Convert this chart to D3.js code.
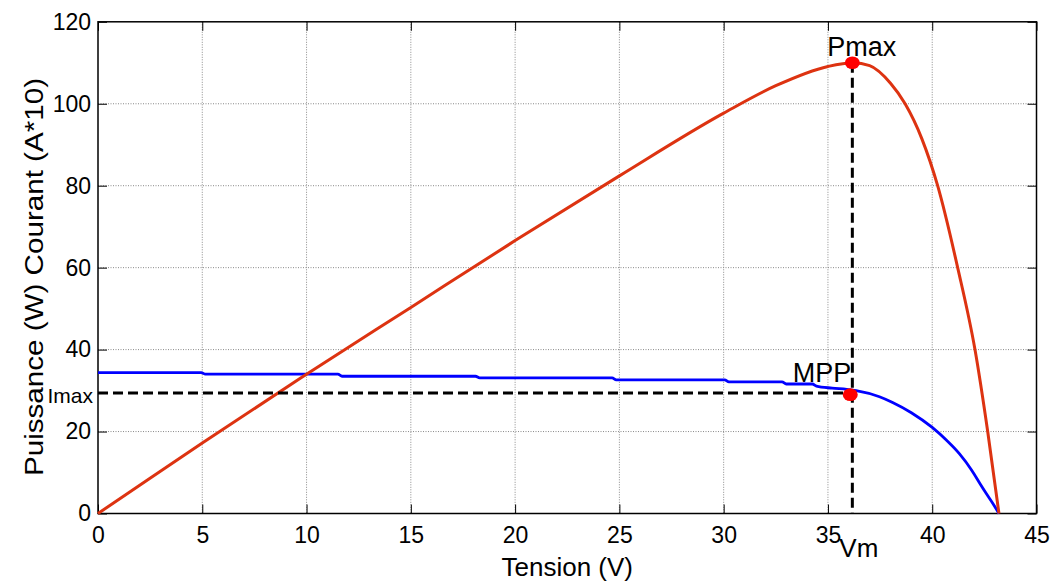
<!DOCTYPE html>
<html>
<head>
<meta charset="utf-8">
<script src="https://cdn.jsdelivr.net/npm/d3@7"></script>
<style>
  body { margin: 0; background: #fff; }
  text { font-family: "Liberation Sans", Arial, sans-serif; fill: #000; }
</style>
</head>
<body>
<div id="my_dataviz"></div>
<script>
// data
var xTicks = [0, 5, 10, 15, 20, 25, 30, 35, 40, 45];
var yTicks = [0, 20, 40, 60, 80, 100, 120];

// power curve P(V)
var powerV = [0, 2, 5, 9.7, 15, 20, 25, 30, 32.5, 35, 36.2, 37, 38, 38.7, 39.5, 40.26, 41.22, 42.05, 42.66, 43.2];
var powerP = [0, 6.9, 17.2, 33, 50.3, 66.6, 82.4, 97.7, 104.4, 109.1, 110, 109.3, 105, 100, 91.5, 80, 60, 40, 20, 0];

// current curve I*10 (V)
var currV = [0, 4.95, 5.15, 11.5, 11.7, 18.1, 18.3, 24.65, 24.85, 30.05, 30.25, 32.8, 33.0, 34.25, 34.45, 35.2, 35.9, 36.35, 37.47, 38.1, 39, 40, 40.7, 41.3, 41.9, 42.3, 42.6, 42.9, 43.2];
var currI = [34.4, 34.4, 34.0, 34.0, 33.5, 33.5, 33.1, 33.1, 32.6, 32.6, 32.1, 32.1, 31.6, 31.6, 31.1, 30.6, 30.3, 30.0, 28.5, 27.1, 24.6, 21.0, 17.8, 14.6, 10.5, 7.2, 4.8, 2.5, 0];

// maximum power point
var Vm = 36.17;
var Pmax = 110;
var Imax = 29.4;
var Impp = 29.0;

var Width = 1054;
var Height = 586;
var margin = {top: 21.8, right: 17.5, bottom: 72.5, left: 98},
    width = Width - margin.left - margin.right,
    height = Height - margin.top - margin.bottom;

var svg = d3.select("#my_dataviz")
  .append("svg")
    .attr("width", Width)
    .attr("height", Height)
  .append("g")
    .attr("transform", "translate(" + margin.left + "," + margin.top + ")");

var x = d3.scaleLinear().domain([0, 45]).range([0, width]);
var y = d3.scaleLinear().domain([0, 120]).range([height, 0]);

// dotted grid
svg.append("g")
  .selectAll("line")
  .data(xTicks.slice(1, -1))
  .enter()
  .append("line")
    .attr("x1", function(d) { return x(d); })
    .attr("x2", function(d) { return x(d); })
    .attr("y1", 0)
    .attr("y2", height)
    .attr("stroke", "#8a8a8a")
    .attr("stroke-width", 1)
    .attr("stroke-dasharray", "1,1.5");
svg.append("g")
  .selectAll("line")
  .data(yTicks.slice(1, -1))
  .enter()
  .append("line")
    .attr("x1", 0)
    .attr("x2", width)
    .attr("y1", function(d) { return y(d); })
    .attr("y2", function(d) { return y(d); })
    .attr("stroke", "#8a8a8a")
    .attr("stroke-width", 1)
    .attr("stroke-dasharray", "1,1.5");

// axes, matlab style: inward ticks on every side
var tickLen = 9;
var xAxis = svg.append("g")
  .attr("transform", "translate(0," + height + ")")
  .call(d3.axisBottom(x).tickValues(xTicks).tickSizeInner(-tickLen).tickSizeOuter(0).tickPadding(13));
var yAxis = svg.append("g")
  .call(d3.axisLeft(y).tickValues(yTicks).tickSizeInner(-tickLen).tickSizeOuter(0).tickPadding(7));
svg.append("g")
  .call(d3.axisTop(x).tickValues(xTicks).tickSizeInner(-tickLen).tickSizeOuter(0).tickFormat(""));
svg.append("g")
  .attr("transform", "translate(" + width + ",0)")
  .call(d3.axisRight(y).tickValues(yTicks).tickSizeInner(-tickLen).tickSizeOuter(0).tickFormat(""));

svg.selectAll(".domain").remove();
svg.selectAll(".tick line").attr("stroke", "#000").attr("stroke-width", 1);
xAxis.selectAll("text").style("font-size", "23px").attr("font-family", null);
yAxis.selectAll("text").style("font-size", "23px").attr("font-family", null);

// box
svg.append("rect")
  .attr("x", 0).attr("y", 0)
  .attr("width", width).attr("height", height)
  .attr("fill", "none")
  .attr("stroke", "#000")
  .attr("stroke-width", 1.5);

var line = d3.line()
  .x(function(d) { return x(d[0]); })
  .y(function(d) { return y(d[1]); });
var smooth = d3.line()
  .curve(d3.curveMonotoneX)
  .x(function(d) { return x(d[0]); })
  .y(function(d) { return y(d[1]); });

// current (blue)
svg.append("path")
  .datum(d3.zip(currV, currI))
  .attr("d", smooth)
  .attr("fill", "none")
  .attr("stroke", "#0000ff")
  .attr("stroke-width", 2.8);

// power (red)
svg.append("path")
  .datum(d3.zip(powerV, powerP))
  .attr("d", smooth)
  .attr("fill", "none")
  .attr("stroke", "#dd3311")
  .attr("stroke-width", 3);

// dashed guides to the MPP
svg.append("path")
  .datum([[0, Imax], [Vm, Imax]])
  .attr("d", line)
  .attr("fill", "none")
  .attr("stroke", "#000")
  .attr("stroke-width", 3)
  .attr("stroke-dasharray", "10,5");
svg.append("path")
  .datum([[Vm, Pmax], [Vm, 0]])
  .attr("d", line)
  .attr("fill", "none")
  .attr("stroke", "#000")
  .attr("stroke-width", 3)
  .attr("stroke-dasharray", "10,5");

// red markers
svg.selectAll("ellipse")
  .data([[Vm, Pmax], [Vm - 0.1, Impp]])
  .enter()
  .append("ellipse")
    .attr("cx", function(d) { return x(d[0]); })
    .attr("cy", function(d) { return y(d[1]); })
    .attr("rx", 7.5)
    .attr("ry", 6.3)
    .attr("fill", "#ff0000");

// annotations
svg.append("text")
  .attr("x", x(Vm) - 25).attr("y", y(Pmax) - 7)
  .style("font-size", "27px")
  .text("Pmax");
svg.append("text")
  .attr("x", x(Vm) - 1).attr("y", y(Impp) - 13)
  .attr("text-anchor", "end")
  .style("font-size", "27px")
  .text("MPP");
svg.append("text")
  .attr("x", -5).attr("y", y(Imax) + 10)
  .attr("text-anchor", "end")
  .style("font-size", "21px")
  .text("Imax");
svg.append("text")
  .attr("x", x(Vm) - 13).attr("y", height + 44)
  .style("font-size", "26px")
  .text("Vm");

// axis titles
svg.append("text")
  .attr("x", (x(0) + x(45)) / 2).attr("y", height + 63)
  .attr("text-anchor", "middle")
  .style("font-size", "26px")
  .text("Tension (V)");
svg.append("text")
  .attr("transform", "translate(" + (43 - margin.left) + "," + (277 - margin.top) + ") rotate(-90)")
  .attr("text-anchor", "middle")
  .attr("textLength", 398)
  .attr("lengthAdjust", "spacingAndGlyphs")
  .style("font-size", "25px")
  .text("Puissance (W) Courant (A*10)");
</script>
</body>
</html>
